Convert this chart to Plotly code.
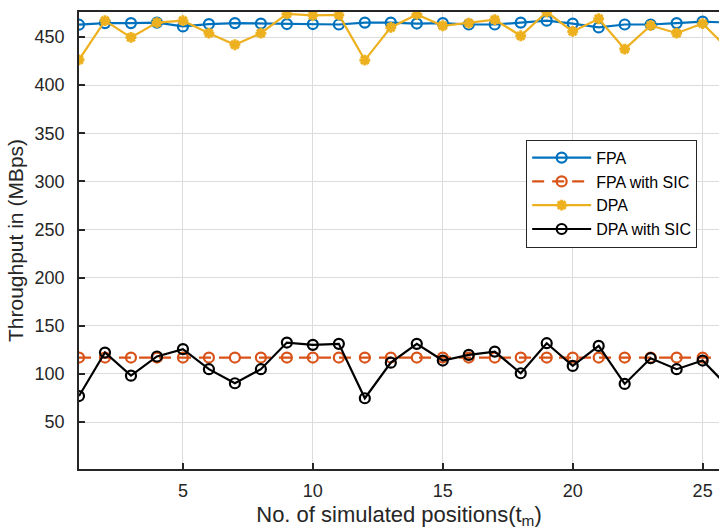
import plotly.graph_objects as go

positions = list(range(1, 27))
fpa = [462.8, 464.5, 464.5, 465, 461, 463.5, 464.5, 464, 463.5, 463.5, 463, 465, 465,
       464, 464.5, 463, 463, 465, 467, 464, 460, 463, 463, 464.5, 466, 465]
fpa_sic = [117] * 26
dpa = [426.3, 467, 449.6, 465, 467, 454, 442, 454, 474, 472.5, 473, 426, 460,
       473.5, 461.7, 464.5, 468, 451.3, 476, 455.8, 469, 437.5, 462, 454, 464, 437]
dpa_sic = [77, 122.2, 98.2, 118.1, 125.7, 104.9, 90.3, 104.9, 132.6, 130.2, 131.2, 74.7, 111.7,
           131.2, 113.9, 119.8, 123.2, 100.7, 131.9, 108.3, 129.1, 89.6, 116.3, 104.9, 113.9, 86]

x_ticks = [5, 10, 15, 20, 25]
y_ticks = [50, 100, 150, 200, 250, 300, 350, 400, 450]

FONT = "Liberation Sans, Arial, sans-serif"
AX = "#262626"
LW = 2.2
MS = 10

fig = go.Figure()
fig.add_trace(go.Scatter(x=positions, y=fpa, name="FPA", mode="lines+markers",
                         line=dict(color="#0072BD", width=LW),
                         marker=dict(symbol="circle-open", size=MS, line=dict(width=LW, color="#0072BD"))))
fig.add_trace(go.Scatter(x=positions, y=fpa_sic, name="FPA with SIC", mode="lines+markers",
                         line=dict(color="#D95319", width=LW, dash="12px,8px"),
                         marker=dict(symbol="circle-open", size=MS, line=dict(width=LW, color="#D95319"))))
fig.add_trace(go.Scatter(x=positions, y=dpa, name="DPA", mode="lines+markers",
                         line=dict(color="#EDB120", width=LW),
                         marker=dict(symbol="asterisk-open", size=9, line=dict(width=3, color="#EDB120"))))
fig.add_trace(go.Scatter(x=positions, y=dpa_sic, name="DPA with SIC", mode="lines+markers",
                         line=dict(color="#000000", width=LW),
                         marker=dict(symbol="circle-open", size=MS, line=dict(width=LW, color="#000000"))))

fig.update_layout(
    width=719, height=530,
    margin=dict(l=78.5, r=0, t=12.3, b=60.7, autoexpand=False),
    paper_bgcolor="white", plot_bgcolor="white",
    font=dict(family=FONT, size=18, color=AX),
    showlegend=True,
    legend=dict(x=0.6987, y=0.7206, xanchor="left", yanchor="top",
                bgcolor="white", bordercolor=AX, borderwidth=1,
                font=dict(family=FONT, size=16, color="#000000"),
                itemwidth=59, tracegroupgap=0),
)
fig.update_xaxes(range=[1, 25.63], tickvals=x_ticks, ticktext=[str(v) for v in x_ticks],
                 automargin=False,
                 ticks="inside", ticklen=6, tickcolor=AX, tickwidth=1.5,
                 showline=True, linecolor=AX, linewidth=1.5, mirror=True,
                 showgrid=True, gridcolor="#dcdcdc", gridwidth=1, zeroline=False,
                 ticklabelstandoff=5, tickfont=dict(size=18, color=AX),
                 title=dict(text="No. of simulated positions(t<sub>m</sub>)", standoff=6,
                            font=dict(family=FONT, size=22, color=AX)))
fig.update_yaxes(range=[1.2, 476], tickvals=y_ticks, ticktext=[str(v) for v in y_ticks],
                 automargin=False,
                 ticks="inside", ticklen=6, tickcolor=AX, tickwidth=1.5,
                 showline=True, linecolor=AX, linewidth=1.5, mirror=False,
                 showgrid=True, gridcolor="#dcdcdc", gridwidth=1, zeroline=False,
                 ticklabelstandoff=9, tickfont=dict(size=18, color=AX),
                 title=dict(text="Throughput in (MBps)", standoff=5,
                            font=dict(family=FONT, size=21, color=AX)))

fig.write_html("out.html", config={"displayModeBar": False},
               post_script="document.body.style.margin='0';")
